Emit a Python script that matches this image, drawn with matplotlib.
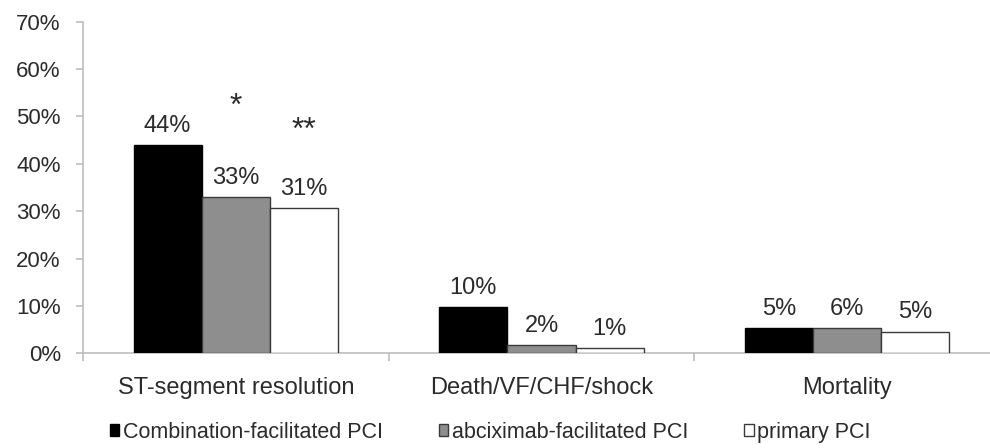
import numpy as np
import matplotlib
matplotlib.use("Agg")
import matplotlib.pyplot as plt

plt.rcParams['font.family'] = ['Liberation Sans', 'DejaVu Sans']

categories = ['ST-segment resolution', 'Death/VF/CHF/shock', 'Mortality']
series = ['Combination-facilitated PCI', 'abciximab-facilitated PCI', 'primary PCI']
values = [
    [44.0, 9.8, 5.3],   # combination
    [32.9, 1.75, 5.3],  # abciximab
    [30.7, 1.05, 4.6],  # primary
]
labels = [
    ['44%', '10%', '5%'],
    ['33%', '2%', '6%'],
    ['31%', '1%', '5%'],
]
stars = ['', '*', '**']       # significance marks over ST-segment bars
star_y = [0, 52.0, 47.0]

faces = ['black', '#8e8e8e', 'white']
edges = ['black', '#3a3a3a', '#3a3a3a']
axis_grey = '#bdbdbd'
txt = '#2b2b2b'

fig = plt.figure(figsize=(9.9, 4.48), dpi=100)
ax = fig.add_axes([83 / 990, 94.7 / 448, 917 / 990, 331.6 / 448])

x = np.arange(len(categories))
w = 0.223
handles = []
for i in range(len(series)):
    b = ax.bar(x + (i - 1) * w, values[i], w, color=faces[i], edgecolor=edges[i],
               linewidth=1.0, label=series[i], zorder=3)
    handles.append(b)
    for j in range(len(categories)):
        ax.annotate(labels[i][j], (x[j] + (i - 1) * w, values[i][j]),
                    xytext=(0, 9.5), textcoords='offset points',
                    ha='center', va='baseline', fontsize=17, color=txt)
    if stars[i]:
        ax.text(x[0] + (i - 1) * w, star_y[i], stars[i], ha='center', va='center',
                fontsize=23, color=txt)

ax.set_xlim(-0.5, 2.5)
ax.set_ylim(0, 70)
ax.set_yticks(np.arange(0, 71, 10))
ax.set_yticklabels(['%d%%' % v for v in range(0, 71, 10)])
ax.set_xticks(x)
ax.set_xticklabels(categories)
ax.set_xticks([-0.5, 0.5, 1.5, 2.5], minor=True)

for s in ['top', 'right']:
    ax.spines[s].set_visible(False)
ax.spines['left'].set_color(axis_grey)
ax.spines['bottom'].set_color(axis_grey)
ax.spines['left'].set_linewidth(1.2)
ax.spines['bottom'].set_linewidth(1.2)

ax.tick_params(axis='y', length=5, width=1.2, color=axis_grey, pad=11,
               labelsize=16, labelcolor=txt)
ax.tick_params(axis='x', which='major', length=0, pad=17, labelsize=17,
               labelcolor=txt)
ax.tick_params(axis='x', which='minor', length=6, width=1.2, color=axis_grey,
               direction='out')

fig.legend(handles=handles, labels=series, loc='center', ncol=3,
           bbox_to_anchor=(490 / 990, 1 - 432 / 448), frameon=False,
           fontsize=15.5, handlelength=0.45, handleheight=0.45,
           handletextpad=0.15, columnspacing=2.6, labelcolor=txt)

plt.savefig("out.png", dpi=100)
